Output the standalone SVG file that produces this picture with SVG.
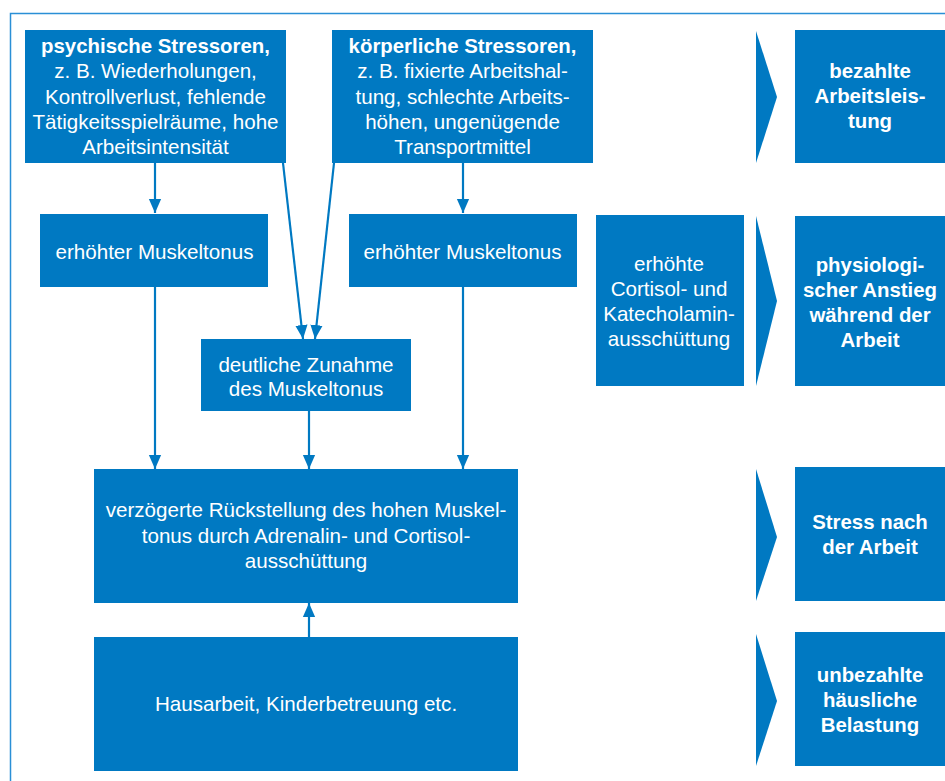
<svg xmlns="http://www.w3.org/2000/svg" width="945" height="781" viewBox="0 0 945 781">
<style>
.b{fill:#0079c2}
.t{fill:#fff;font-family:"Liberation Sans",Arial,sans-serif;font-size:20.6px;text-anchor:middle}
.bo{font-weight:bold;font-size:20.4px}
.c{stroke:#0079c2;stroke-width:2.2;fill:none}
.frame{stroke:#2a8fd6;stroke-width:1.5;fill:none}
</style>
<defs>
<marker id="ah2" markerWidth="14" markerHeight="16" refX="16" refY="7" orient="auto" markerUnits="userSpaceOnUse" viewBox="0 0 16 14">
<path d="M0,0 L16,7 L0,14 Z" fill="#0079c2"/>
</marker>
</defs>
<rect width="945" height="781" fill="#fff"/>
<path class="frame" d="M945,13.5 H10.5 V781"/>

<g id="connectors">
<line class="c" x1="155" y1="163" x2="155" y2="213" marker-end="url(#ah2)"/>
<line class="c" x1="463" y1="163" x2="463" y2="213" marker-end="url(#ah2)"/>
<line class="c" x1="283" y1="163" x2="303" y2="339" marker-end="url(#ah2)"/>
<line class="c" x1="334" y1="163" x2="315" y2="339" marker-end="url(#ah2)"/>
<line class="c" x1="155" y1="287" x2="155" y2="469" marker-end="url(#ah2)"/>
<line class="c" x1="463" y1="287" x2="463" y2="469" marker-end="url(#ah2)"/>
<line class="c" x1="309" y1="411" x2="309" y2="469" marker-end="url(#ah2)"/>
<line class="c" x1="309" y1="637" x2="309" y2="603" marker-end="url(#ah2)"/>
</g>

<g id="psych">
<rect class="b" x="25" y="30" width="261" height="133"/>
<text class="t bo" x="155.5" y="53">psychische Stressoren,</text>
<text class="t" x="155.5" y="78">z. B. Wiederholungen,</text>
<text class="t" x="155.5" y="103.5">Kontrollverlust, fehlende</text>
<text class="t" x="155.5" y="129">Tätigkeitsspielräume, hohe</text>
<text class="t" x="155.5" y="154">Arbeitsintensität</text>
</g>

<g id="koerper">
<rect class="b" x="332" y="30" width="261" height="133"/>
<text class="t bo" x="462.5" y="53">körperliche Stressoren,</text>
<text class="t" x="462.5" y="78">z. B. fixierte Arbeitshal-</text>
<text class="t" x="462.5" y="103.5">tung, schlechte Arbeits-</text>
<text class="t" x="462.5" y="129">höhen, ungenügende</text>
<text class="t" x="462.5" y="154">Transportmittel</text>
</g>

<g id="muskel1">
<rect class="b" x="40" y="214" width="228" height="73"/>
<text class="t" x="154.5" y="259">erhöhter Muskeltonus</text>
</g>

<g id="muskel2">
<rect class="b" x="349" y="214" width="228" height="73"/>
<text class="t" x="462.5" y="259">erhöhter Muskeltonus</text>
</g>

<g id="zunahme">
<rect class="b" x="201" y="339" width="210" height="72"/>
<text class="t" x="306" y="372">deutliche Zunahme</text>
<text class="t" x="306" y="396">des Muskeltonus</text>
</g>

<g id="cortisol">
<rect class="b" x="596" y="215" width="148" height="171"/>
<text class="t" x="669" y="271">erhöhte</text>
<text class="t" x="669" y="296">Cortisol- und</text>
<text class="t" x="669" y="321">Katecholamin-</text>
<text class="t" x="669" y="346">ausschüttung</text>
</g>

<g id="rueckstellung">
<rect class="b" x="94" y="469" width="424" height="134"/>
<text class="t" x="306" y="517">verzögerte Rückstellung des hohen Muskel-</text>
<text class="t" x="306" y="543">tonus durch Adrenalin- und Cortisol-</text>
<text class="t" x="306" y="568">ausschüttung</text>
</g>

<g id="hausarbeit">
<rect class="b" x="94" y="637" width="424" height="134"/>
<text class="t" x="306" y="711">Hausarbeit, Kinderbetreuung etc.</text>
</g>

<g id="chevrons">
<polygon class="b" points="756,31 777,97 756,163"/>
<polygon class="b" points="756,216 777,301 756,386"/>
<polygon class="b" points="756,469 777,537 756,601"/>
<polygon class="b" points="756,634 777,701 756,766"/>
</g>

<g id="bezahlt">
<rect class="b" x="795" y="30" width="150" height="133"/>
<text class="t bo" x="870" y="78">bezahlte</text>
<text class="t bo" x="870" y="103">Arbeitsleis-</text>
<text class="t bo" x="870" y="128">tung</text>
</g>

<g id="physio">
<rect class="b" x="795" y="216" width="150" height="170"/>
<text class="t bo" x="870" y="272">physiologi-</text>
<text class="t bo" x="870" y="297">scher Anstieg</text>
<text class="t bo" x="870" y="322">während der</text>
<text class="t bo" x="870" y="347">Arbeit</text>
</g>

<g id="stress">
<rect class="b" x="795" y="467" width="150" height="134"/>
<text class="t bo" x="870" y="529">Stress nach</text>
<text class="t bo" x="870" y="554">der Arbeit</text>
</g>

<g id="unbezahlt">
<rect class="b" x="795" y="632" width="150" height="134"/>
<text class="t bo" x="870" y="682">unbezahlte</text>
<text class="t bo" x="870" y="707">häusliche</text>
<text class="t bo" x="870" y="732">Belastung</text>
</g>
</svg>
